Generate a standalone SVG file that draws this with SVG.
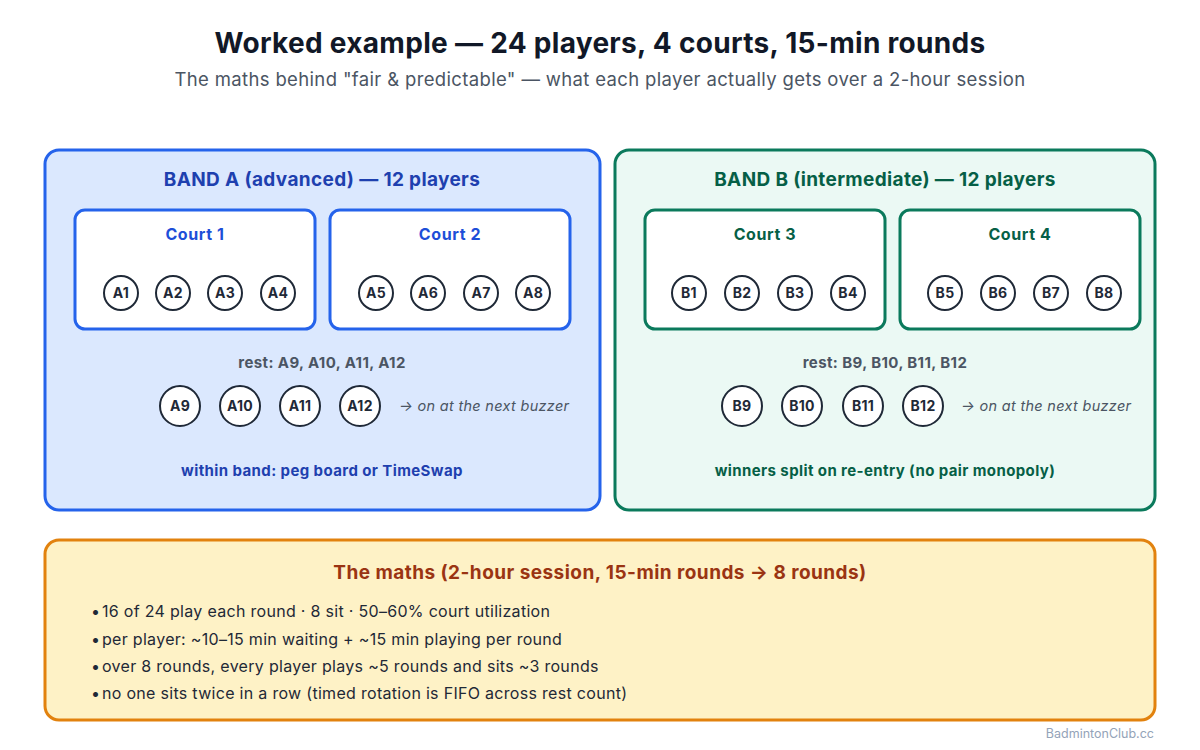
<svg xmlns="http://www.w3.org/2000/svg" width="1200" height="750" viewBox="0 0 1200 750">
<style>
text{font-family:Inter,"Noto Sans","Liberation Sans",sans-serif}
.title{font-size:28px;font-weight:700;fill:#111827;letter-spacing:0.3px}
.sub{font-size:18.5px;fill:#4b5563;letter-spacing:0.35px}
.bandA{fill:#dbe8fe;stroke:#2563eb;stroke-width:3}
.bandB{fill:#ebf9f4;stroke:#0b7a5c;stroke-width:3}
.courtA{fill:#fff;stroke:#2563eb;stroke-width:3}
.courtB{fill:#fff;stroke:#0b7a5c;stroke-width:3}
.bta{font-size:19px;font-weight:700;fill:#1e40af;letter-spacing:0.35px}
.btb{font-size:19px;font-weight:700;fill:#065f46;letter-spacing:0.35px}
.cta{font-size:16px;font-weight:700;fill:#1d4ed8;letter-spacing:0.6px}
.ctb{font-size:16px;font-weight:700;fill:#065f46;letter-spacing:0.6px}
.p{fill:#fff;stroke:#1f2937;stroke-width:2}
.pt{font-size:14px;font-weight:700;fill:#1f2937;letter-spacing:0.3px}
.rest{font-size:15px;font-weight:700;fill:#4b5563;letter-spacing:0.4px}
.next{font-size:14.5px;font-style:italic;fill:#4b5563;letter-spacing:0.3px}
.fa{font-size:15px;font-weight:700;fill:#1e40af;letter-spacing:0.4px}
.fb{font-size:15px;font-weight:700;fill:#065f46;letter-spacing:0.4px}
.math{fill:#fef2c6;stroke:#e2820e;stroke-width:3}
.mt{font-size:19px;font-weight:700;fill:#9a3412;letter-spacing:0.45px}
.ml{font-size:16px;fill:#1f2937;letter-spacing:0.3px}
.wm{font-size:12.5px;fill:#94a3b8}
</style>
<rect width="1200" height="750" fill="#ffffff"/>
<text class="title" x="600" y="53" text-anchor="middle">Worked example — 24 players, 4 courts, 15-min rounds</text>
<text class="sub" x="600" y="86" text-anchor="middle">The maths behind "fair &amp; predictable" — what each player actually gets over a 2-hour session</text>

<g id="bandA">
<rect class="bandA" x="45" y="150" width="555" height="360" rx="14"/>
<text class="bta" x="322" y="186" text-anchor="middle">BAND A (advanced) — 12 players</text>
<g id="court1">
<rect class="courtA" x="75" y="210" width="240" height="119" rx="10"/>
<text class="cta" x="195" y="240" text-anchor="middle">Court 1</text>
</g>
<g id="court2">
<rect class="courtA" x="330" y="210" width="240" height="119" rx="10"/>
<text class="cta" x="450" y="240" text-anchor="middle">Court 2</text>
</g>
<g id="A1"><circle class="p" cx="121" cy="293" r="17"/><text class="pt" x="121" y="298" text-anchor="middle">A1</text></g>
<g id="A2"><circle class="p" cx="173" cy="293" r="17"/><text class="pt" x="173" y="298" text-anchor="middle">A2</text></g>
<g id="A3"><circle class="p" cx="225" cy="293" r="17"/><text class="pt" x="225" y="298" text-anchor="middle">A3</text></g>
<g id="A4"><circle class="p" cx="278" cy="293" r="17"/><text class="pt" x="278" y="298" text-anchor="middle">A4</text></g>
<g id="A5"><circle class="p" cx="376" cy="293" r="17"/><text class="pt" x="376" y="298" text-anchor="middle">A5</text></g>
<g id="A6"><circle class="p" cx="428" cy="293" r="17"/><text class="pt" x="428" y="298" text-anchor="middle">A6</text></g>
<g id="A7"><circle class="p" cx="481" cy="293" r="17"/><text class="pt" x="481" y="298" text-anchor="middle">A7</text></g>
<g id="A8"><circle class="p" cx="533" cy="293" r="17"/><text class="pt" x="533" y="298" text-anchor="middle">A8</text></g>
<text class="rest" x="322" y="368" text-anchor="middle">rest: A9, A10, A11, A12</text>
<g id="A9"><circle class="p" cx="180" cy="406" r="20"/><text class="pt" x="180" y="411" text-anchor="middle">A9</text></g>
<g id="A10"><circle class="p" cx="240" cy="406" r="20"/><text class="pt" x="240" y="411" text-anchor="middle">A10</text></g>
<g id="A11"><circle class="p" cx="300" cy="406" r="20"/><text class="pt" x="300" y="411" text-anchor="middle">A11</text></g>
<g id="A12"><circle class="p" cx="360" cy="406" r="20"/><text class="pt" x="360" y="411" text-anchor="middle">A12</text></g>
<text class="next" x="399" y="411">→ on at the next buzzer</text>
<text class="fa" x="322" y="476" text-anchor="middle">within band: peg board or TimeSwap</text>
</g>

<g id="bandB">
<rect class="bandB" x="615" y="150" width="540" height="360" rx="14"/>
<text class="btb" x="885" y="186" text-anchor="middle">BAND B (intermediate) — 12 players</text>
<g id="court3">
<rect class="courtB" x="645" y="210" width="240" height="119" rx="10"/>
<text class="ctb" x="765" y="240" text-anchor="middle">Court 3</text>
</g>
<g id="court4">
<rect class="courtB" x="900" y="210" width="240" height="119" rx="10"/>
<text class="ctb" x="1020" y="240" text-anchor="middle">Court 4</text>
</g>
<g id="B1"><circle class="p" cx="689" cy="293" r="17"/><text class="pt" x="689" y="298" text-anchor="middle">B1</text></g>
<g id="B2"><circle class="p" cx="742" cy="293" r="17"/><text class="pt" x="742" y="298" text-anchor="middle">B2</text></g>
<g id="B3"><circle class="p" cx="795" cy="293" r="17"/><text class="pt" x="795" y="298" text-anchor="middle">B3</text></g>
<g id="B4"><circle class="p" cx="848" cy="293" r="17"/><text class="pt" x="848" y="298" text-anchor="middle">B4</text></g>
<g id="B5"><circle class="p" cx="945" cy="293" r="17"/><text class="pt" x="945" y="298" text-anchor="middle">B5</text></g>
<g id="B6"><circle class="p" cx="998" cy="293" r="17"/><text class="pt" x="998" y="298" text-anchor="middle">B6</text></g>
<g id="B7"><circle class="p" cx="1051" cy="293" r="17"/><text class="pt" x="1051" y="298" text-anchor="middle">B7</text></g>
<g id="B8"><circle class="p" cx="1104" cy="293" r="17"/><text class="pt" x="1104" y="298" text-anchor="middle">B8</text></g>
<text class="rest" x="885" y="368" text-anchor="middle">rest: B9, B10, B11, B12</text>
<g id="B9"><circle class="p" cx="742" cy="406" r="20"/><text class="pt" x="742" y="411" text-anchor="middle">B9</text></g>
<g id="B10"><circle class="p" cx="802" cy="406" r="20"/><text class="pt" x="802" y="411" text-anchor="middle">B10</text></g>
<g id="B11"><circle class="p" cx="863" cy="406" r="20"/><text class="pt" x="863" y="411" text-anchor="middle">B11</text></g>
<g id="B12"><circle class="p" cx="923" cy="406" r="20"/><text class="pt" x="923" y="411" text-anchor="middle">B12</text></g>
<text class="next" x="961" y="411">→ on at the next buzzer</text>
<text class="fb" x="885" y="476" text-anchor="middle">winners split on re-entry (no pair monopoly)</text>
</g>

<g id="maths">
<rect class="math" x="45" y="540" width="1110" height="180" rx="14"/>
<text class="mt" x="600" y="579" text-anchor="middle">The maths (2-hour session, 15-min rounds → 8 rounds)</text>
<text class="ml" x="91" y="617">•<tspan x="102">16 of 24 play each round · 8 sit · 50–60% court utilization</tspan></text>
<text class="ml" x="91" y="645">•<tspan x="102">per player: ~10–15 min waiting + ~15 min playing per round</tspan></text>
<text class="ml" x="91" y="672">•<tspan x="102">over 8 rounds, every player plays ~5 rounds and sits ~3 rounds</tspan></text>
<text class="ml" x="91" y="699">•<tspan x="102">no one sits twice in a row (timed rotation is FIFO across rest count)</tspan></text>
</g>

<g id="connectors"></g>

<text class="wm" x="1154" y="738" text-anchor="end">BadmintonClub.cc</text>
</svg>
